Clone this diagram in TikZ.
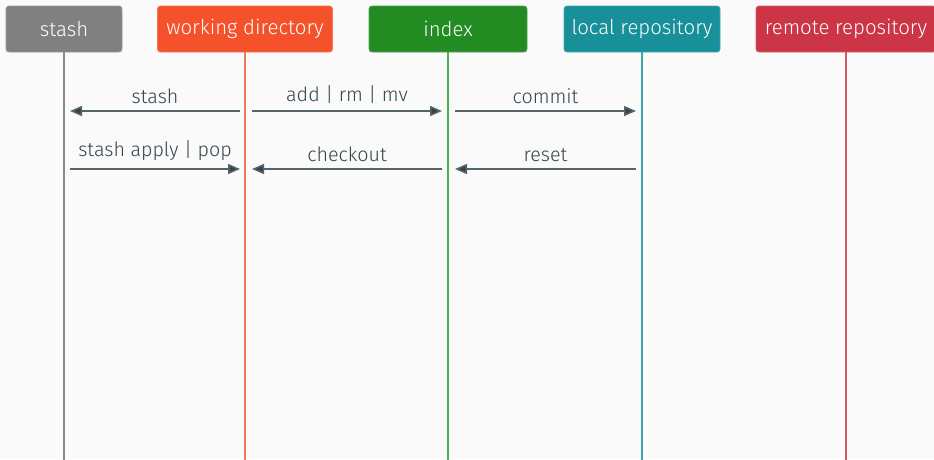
\documentclass[tikz,border=0pt]{standalone}
\usepackage{fontspec}
\setmainfont{Fira Sans Light}
\usetikzlibrary{arrows.meta}
\definecolor{bg}{HTML}{FAFAFA}
\definecolor{ink}{HTML}{34444A}
\definecolor{arrowink}{HTML}{56646A}
\definecolor{cstash}{HTML}{808080}
\definecolor{cwork}{HTML}{F5512B}
\definecolor{cindex}{HTML}{228B22}
\definecolor{clocal}{HTML}{17909A}
\definecolor{cremote}{HTML}{CC3545}
\definecolor{lstash}{HTML}{8A8A8A}
\definecolor{lwork}{HTML}{F47A58}
\definecolor{lindex}{HTML}{4CAF50}
\definecolor{llocal}{HTML}{3EA4AE}
\definecolor{lremote}{HTML}{D45A66}
\tikzset{
  actor/.style={rounded corners=3pt, minimum height=46pt, inner sep=0pt,
    text=white, font=\fontsize{20.4}{24}\selectfont, draw=#1!80!white, fill=#1, line width=0.8pt},
  lifeline/.style={line width=2pt, draw=#1},
  msg/.style={draw=arrowink, line width=1.5pt, -{Triangle[length=12pt,width=10pt,fill=ink]}},
  msglabel/.style={text=ink, font=\fontsize{19.7}{23}\selectfont, above=7pt, midway, inner sep=0pt}
}
\begin{document}
\begin{tikzpicture}[x=1pt,y=-1pt]
  \fill[bg] (0,0) rectangle (934,459);
  \useasboundingbox (0,0) rectangle (934,459);

  % participants
  \node[actor=cstash, minimum width=116pt] (stash) at (64,29) {stash};
  \node[actor=cwork, minimum width=175pt] (work) at (245,29) {working directory};
  \node[actor=cindex, minimum width=158pt] (index) at (448,29) {index};
  \node[actor=clocal, minimum width=156pt] (local) at (642,29) {local repository};
  \node[actor=cremote, minimum width=180pt] (remote) at (846,29) {remote repository};

  % lifeline ends
  \coordinate (stashEnd) at (64,460);
  \coordinate (workEnd) at (245,460);
  \coordinate (indexEnd) at (448,460);
  \coordinate (localEnd) at (642,460);
  \coordinate (remoteEnd) at (846,460);

  \draw[lifeline=lstash] (stash.south) -- (stashEnd);
  \draw[lifeline=lwork] (work.south) -- (workEnd);
  \draw[lifeline=lindex] (index.south) -- (indexEnd);
  \draw[lifeline=llocal] (local.south) -- (localEnd);
  \draw[lifeline=lremote] (remote.south) -- (remoteEnd);

  % message anchors on the lifelines
  \coordinate (s1) at (70,111);   \coordinate (w1l) at (240,111);
  \coordinate (w1r) at (252,111); \coordinate (i1l) at (442,111);
  \coordinate (i1r) at (455,111); \coordinate (l1) at (636,111);
  \coordinate (s2) at (70,169);   \coordinate (w2l) at (240,169);
  \coordinate (w2r) at (252,169); \coordinate (i2l) at (442,169);
  \coordinate (i2r) at (455,169); \coordinate (l2) at (636,169);

  \draw[msg] (w1l) -- node[msglabel] {stash} (s1);
  \draw[msg] (w1r) -- node[msglabel] {add | rm | mv} (i1l);
  \draw[msg] (i1r) -- node[msglabel] {commit} (l1);
  \draw[msg] (s2) -- node[msglabel, above=1pt] {stash apply | pop} (w2l);
  \draw[msg] (i2l) -- node[msglabel] {checkout} (w2r);
  \draw[msg] (l2) -- node[msglabel] {reset} (i2r);
\end{tikzpicture}
\end{document}
